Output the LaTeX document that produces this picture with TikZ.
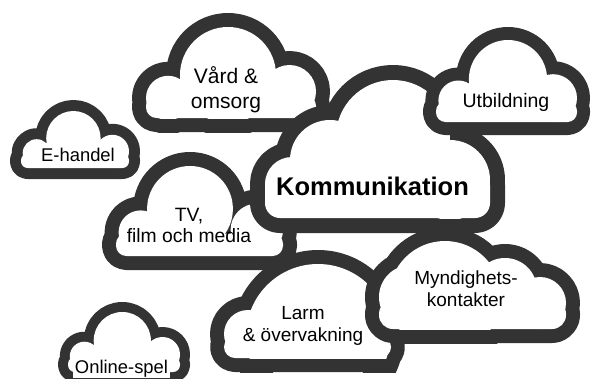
\documentclass[tikz,border=0pt]{standalone}
\usepackage{fontspec}
\setmainfont{Liberation Sans}
\usepackage{xcolor}
\definecolor{cloudgray}{HTML}{333333}
\tikzset{
  cloud edge/.style  = {draw=cloudgray, line join=round},
  cloud label/.style = {align=center, inner sep=0pt, text=black}
}
% #1 = outline width, #2 = outer bottom, #3 = bumps, #4 = body
\newcommand{\drawcloud}[4]{%
  \begin{scope}
    \clip (-10,-10) rectangle (602,#2);
    \draw [cloud edge, line width=2*#1] #3 #4;
  \end{scope}
  \begin{scope}
    \clip (-10,-10) rectangle (602,#2-#1);
    \fill [white] #3;
    \fill [white] #4;
  \end{scope}
}

\begin{document}
\begin{tikzpicture}[x=1pt, y=-1pt]
  \useasboundingbox (0,0) rectangle (592,378);
  \fill [white] (0,0) rectangle (592,378);

  % Vard & omsorg
  \drawcloud{14}{132}{(168.2,98) circle (22.2) (228,75) circle (48) (289.5,91.5) circle (26.5)}{[rounded corners=10.6pt] (146,95.3) rectangle (316,118)}
  \node [cloud label, font={\fontsize{21}{25}\selectfont}] (vard) at (226,90.2) {Vård \&\\omsorg};

  % TV, film och media
  \drawcloud{14}{270}{(140.6,232.4) circle (22) (190,208.9) circle (42.9) (256.8,229.8) circle (26.2)}{[rounded corners=10.4pt] (116,233.5) rectangle (283,256)}
  \node [cloud label, font={\fontsize{19.3}{21.7}\selectfont}] (tv) at (189,225.6) {TV,\\film och media};

  % E-handel
  \drawcloud{11}{179}{(36.6,153.1) circle (13.9) (73.4,138.2) circle (27.2) (112.4,151.4) circle (16.6)}{[rounded corners=6.6pt] (21,153.7) rectangle (129,168)}
  \node [cloud label, anchor=base, font={\fontsize{18.4}{21}\selectfont}] (ehandel) at (78,161.7) {E-handel};

  % Online-spel
  \drawcloud{10}{382}{(84.4,356.3) circle (14.6) (122.3,340.6) circle (28.6) (162.5,354.5) circle (17.5)}{[rounded corners=7pt] (68,357) rectangle (180,372)}
  \node [cloud label, anchor=base, fill=white, inner sep=1.5pt, font={\fontsize{18.4}{21}\selectfont}] (online) at (121.5,373) {Online-spel};

  % Kommunikation
  \drawcloud{15}{233}{(292,184) circle (27) (330,160) circle (40) (393,137) circle (57) (450,180) circle (40)}{[rounded corners=15pt] (265,170) rectangle (490,218)}
  \node [cloud label, anchor=base, font={\fontsize{25.5}{29}\selectfont\bfseries}] (komm) at (372.5,195) {Kommunikation};

  % Utbildning
  \drawcloud{13}{135}{(458.4,100.5) circle (20) (508,79.1) circle (39.1) (553.1,98.1) circle (23.9)}{[rounded corners=9.5pt] (436,101.5) rectangle (577,122)}
  \node [cloud label, anchor=base, font={\fontsize{19.5}{22}\selectfont}] (utb) at (506,107) {Utbildning};

  % Larm & overvakning
  \drawcloud{14}{372}{(248,334) circle (24) (318,336) circle (72)}{[rounded corners=11pt] (224,336) rectangle (391,358)}
  \node [cloud label, font={\fontsize{19}{22}\selectfont}] (larm) at (303,326.3) {Larm\\\& övervakning};

  % Myndighetskontakter
  \drawcloud{14}{343}{(411,297) circle (32) (445,297) circle (56) (505,290) circle (32) (540,303) circle (26)}{[rounded corners=14pt] (379,300) rectangle (566,329)}
  \node [cloud label, font={\fontsize{19}{22}\selectfont}] (mynd) at (466,289.1) {Myndighets-\\kontakter};
\end{tikzpicture}
\end{document}
